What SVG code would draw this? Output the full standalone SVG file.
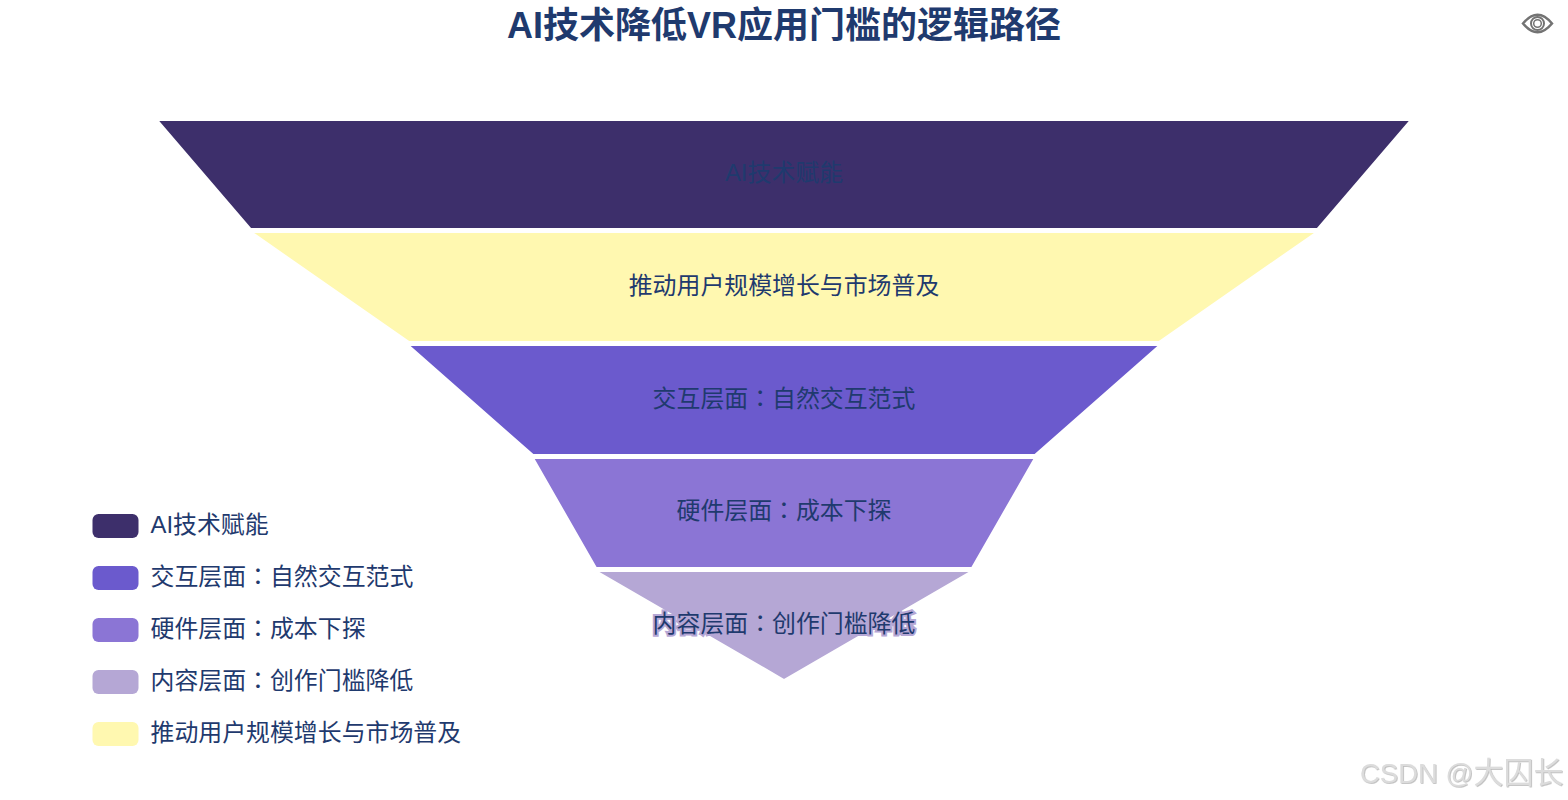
<svg xmlns="http://www.w3.org/2000/svg" width="1568" height="800" viewBox="0 0 1568 800">
<style>
text{font-family:"Liberation Sans","Noto Sans CJK TC",sans-serif;fill:#1f3a6e}
.t{font-size:23.900px;text-anchor:middle}
.l{font-size:23.900px}
.s{stroke:#fff;stroke-width:2}
</style>
<defs><filter id="bevel" x="-5%" y="-20%" width="110%" height="140%"><feDropShadow dx="0.800" dy="0.800" stdDeviation="0.500" flood-color="#b8b8b8"/></filter></defs>
<rect width="1568" height="800" fill="#fff"/>
<text id="title" x="784" y="38" text-anchor="middle" font-size="36" font-weight="bold">AI技术降低VR应用门槛的逻辑路径</text>
<g id="eye" fill="none" stroke="#737373">
<path d="M1523 23.500Q1537.500 6 1552 23.500Q1537.500 41 1523 23.500Z" stroke-width="2.500"/>
<circle cx="1537.500" cy="23.500" r="6.500" stroke-width="2"/>
<circle cx="1537.500" cy="23.500" r="3.800" stroke-width="1.500"/>
</g>
<g id="funnel-1"><polygon class="s" points="157,120 1411,120 1317.500,229 250.500,229" fill="#3d2f6b"/><text class="t" x="784" y="181">AI技术赋能</text></g>
<g id="funnel-2"><polygon class="s" points="251,232 1317,232 1159,342 409,342" fill="#fff8b0"/><text class="t" x="784" y="294">推动用户规模增长与市场普及</text></g>
<g id="funnel-3"><polygon class="s" points="408,345 1160,345 1035,455 533,455" fill="#6b5acd"/><text class="t" x="784" y="407">交互层面：自然交互范式</text></g>
<g id="funnel-4"><polygon class="s" points="533,458 1035,458 972,568 596,568" fill="#8b75d5"/><text class="t" x="784" y="519">硬件层面：成本下探</text></g>
<g id="funnel-5"><polygon class="s" points="596,571 972,571 784,680" fill="#b5a7d5"/><text class="t" x="784" y="632" stroke="#b5a7d5" stroke-width="4" paint-order="stroke">内容层面：创作门槛降低</text></g>
<g id="legend">
<g id="legend-1"><rect x="92.500" y="514" width="46" height="24" rx="6" fill="#3d2f6b"/><text class="l" x="150.500" y="533">AI技术赋能</text></g>
<g id="legend-2"><rect x="92.500" y="566" width="46" height="24" rx="6" fill="#6b5acd"/><text class="l" x="150.500" y="585">交互层面：自然交互范式</text></g>
<g id="legend-3"><rect x="92.500" y="618" width="46" height="24" rx="6" fill="#8b75d5"/><text class="l" x="150.500" y="637">硬件层面：成本下探</text></g>
<g id="legend-4"><rect x="92.500" y="670" width="46" height="24" rx="6" fill="#b5a7d5"/><text class="l" x="150.500" y="689">内容层面：创作门槛降低</text></g>
<g id="legend-5"><rect x="92.500" y="722" width="46" height="24" rx="6" fill="#fff8b0"/><text class="l" x="150.500" y="741">推动用户规模增长与市场普及</text></g>
</g>
<text id="watermark" x="1360" y="783" font-size="27.500" filter="url(#bevel)" style="fill:#dcdcdc">CSDN @<tspan font-size="30">大囚长</tspan></text>
</svg>
